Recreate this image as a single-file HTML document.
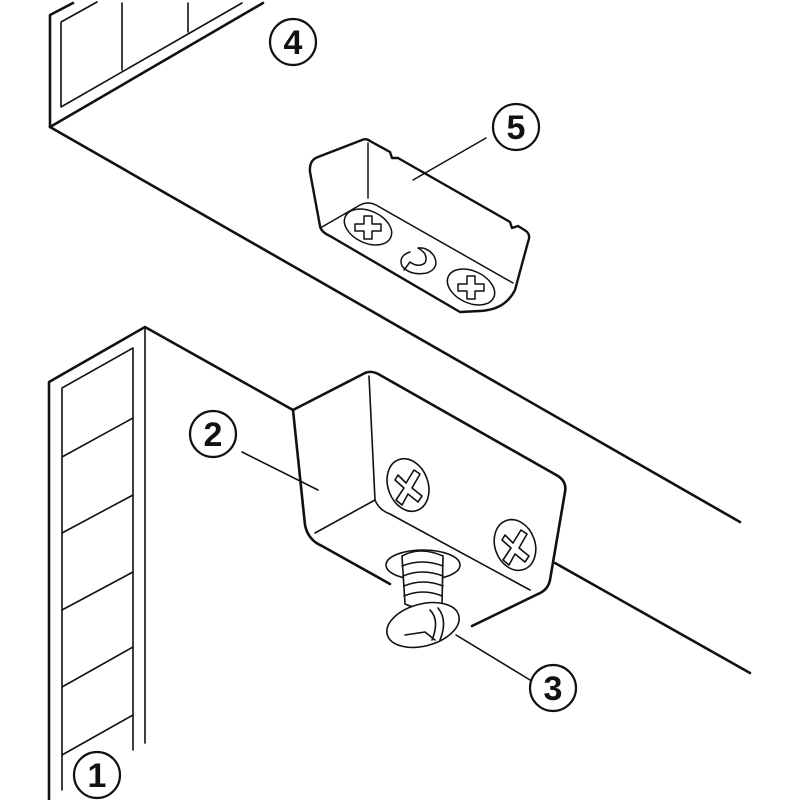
<!DOCTYPE html>
<html><head><style>html,body{margin:0;padding:0;background:#fff}svg{display:block}</style></head>
<body>
<svg width="800" height="800" viewBox="0 0 800 800" xmlns="http://www.w3.org/2000/svg" fill="none" stroke="#111" stroke-linejoin="round" stroke-linecap="round">
<!-- top cabinet -->
<g stroke-width="2.6">
<polyline points="73,3 50,15 50,127 263,3"/>
<line x1="50" y1="127" x2="740" y2="522"/>
</g>
<g stroke-width="1.6">
<polyline points="97,2 61,22 61,107 242,3"/>
<line x1="122" y1="3" x2="122" y2="70"/>
<line x1="188" y1="3" x2="188" y2="32"/>
</g>
<!-- left cabinet -->
<g stroke-width="2.6">
<polyline points="49,800 49,382 145,327 293,410"/>
<line x1="555" y1="563" x2="750" y2="673"/>
</g>
<g stroke-width="1.6">
<line x1="145" y1="327" x2="145" y2="743"/>
<polyline points="62,790 62,388 133,348 133,750"/>
<line x1="62" y1="457" x2="133" y2="418"/>
<line x1="62" y1="533" x2="133" y2="495"/>
<line x1="62" y1="610" x2="133" y2="572"/>
<line x1="62" y1="687" x2="133" y2="647"/>
<line x1="62" y1="755" x2="133" y2="715"/>
</g>
<!-- part 5 -->
<g stroke-width="2.4">
<path d="M310,172 Q309,160 318,157 L362,140 Q366,138 370,141 L390,152 L392,158 L398,158 L510,222 L512,228 L518,226 L526,231 Q531,235 528,242 L515,290 Q505,310 480,311 L460,312 L330,236 Q321,232 320,226 Z"/>
</g>
<g stroke-width="1.5">
<line x1="368" y1="143" x2="368" y2="198"/>
<path d="M322,227 L360,205 Q368,201 376,205 L513,283"/>
<ellipse cx="368" cy="227" rx="25" ry="16" transform="rotate(25 368 227)"/>
<ellipse cx="471" cy="287" rx="25" ry="16" transform="rotate(25 471 287)"/>
<path d="M364,216 L372,216 L372,224 L381,224 L381,231 L372,231 L372,239 L364,239 L364,231 L355,231 L355,224 L364,224 Z"/>
<path d="M467,276 L475,276 L475,284 L484,284 L484,291 L475,291 L475,299 L467,299 L467,291 L458,291 L458,284 L467,284 Z"/>
<path d="M410,252 Q398,256 402,266 Q410,276 427,273 Q440,268 434,256 Q428,247 418,248 Q429,254 425,263 Q418,268 410,262 L404,270"/>
<line x1="486" y1="138" x2="413" y2="180"/>
</g>
<!-- part 2 -->
<g stroke-width="2.6">
<path d="M293,410 L365,373 Q372,370 380,375 L558,476 Q567,482 565,492 L550,580 Q548,590 538,594 L472,626"/>
<path d="M293,410 L305,525 Q308,540 322,546 L390,584"/>
</g>
<g stroke-width="1.6">
<line x1="369" y1="376" x2="375" y2="500"/>
<path d="M375,500 Q379,510 390,514 L530,590"/>
<line x1="375" y1="500" x2="315" y2="533"/>
<ellipse cx="408" cy="485" rx="20" ry="27" transform="rotate(-20 408 485)"/>
<ellipse cx="515" cy="545" rx="20" ry="26" transform="rotate(-20 515 545)"/>
<path d="M398,475 L406,483 L414,470 L420,474 L412,488 L422,496 L418,502 L408,494 L402,505 L396,500 L404,488 L395,480 Z"/>
<path d="M505,535 L513,543 L521,530 L527,534 L519,548 L529,556 L525,562 L515,554 L509,565 L503,560 L511,548 L502,540 Z"/>
<line x1="242" y1="452" x2="318" y2="490"/>
</g>
<!-- screw 3 -->
<g stroke-width="1.6">
<ellipse cx="423" cy="565" rx="37" ry="15" fill="#fff"/>
<path d="M402,556 Q420,546 443,556 L442,605 Q422,612 405,604 Z" fill="#fff"/>
<path d="M402,566 Q422,558 443,566 M403,576 Q422,568 443,576 M404,586 Q423,578 443,586 M404,596 Q423,588 442,596"/>
<ellipse cx="423" cy="625" rx="37" ry="21" transform="rotate(-15 423 625)" fill="#fff"/>
<path d="M430,610 Q440,620 432,640 M438,608 Q448,620 440,640 M405,635 L425,632 L435,640"/>
<line x1="456" y1="635" x2="530" y2="680"/>
</g>
<!-- labels -->
<g font-family="Liberation Sans, sans-serif" font-weight="bold" font-size="34" fill="#111" stroke="none" text-anchor="middle">
<circle cx="293" cy="42" r="23" stroke="#111" stroke-width="2.2" fill="none"/>
<text x="293" y="54">4</text>
<circle cx="516" cy="127" r="23" stroke="#111" stroke-width="2.2" fill="none"/>
<text x="516" y="139">5</text>
<circle cx="213" cy="434" r="23" stroke="#111" stroke-width="2.2" fill="none"/>
<text x="213" y="446">2</text>
<circle cx="553" cy="688" r="23" stroke="#111" stroke-width="2.2" fill="none"/>
<text x="553" y="700">3</text>
<circle cx="97" cy="775" r="23" stroke="#111" stroke-width="2.2" fill="none"/>
<text x="97" y="787">1</text>
</g>
</svg>
</body></html>
